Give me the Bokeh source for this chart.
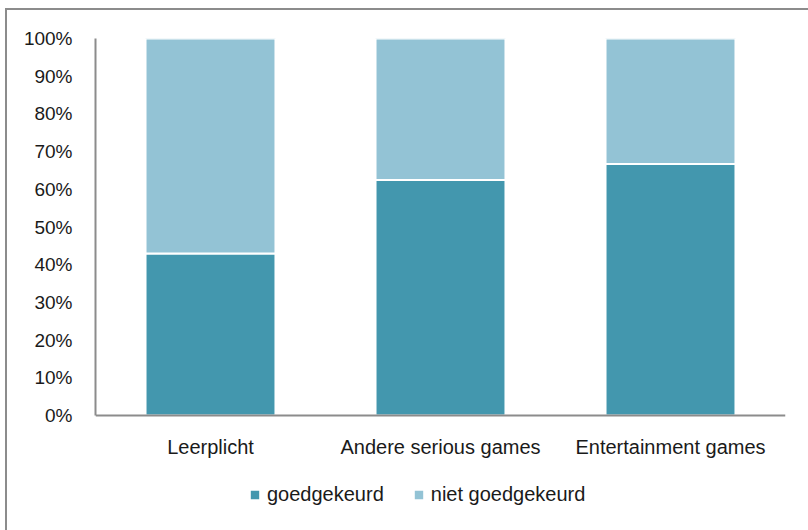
from bokeh.plotting import figure
from bokeh.models import ColumnDataSource, NumeralTickFormatter, FixedTicker, Legend, LegendItem, Range1d
from bokeh.embed import file_html
from bokeh.resources import INLINE

categories = ["Leerplicht", "Andere serious games", "Entertainment games"]
goedgekeurd = [0.43, 0.625, 0.667]
niet_goedgekeurd = [1 - v for v in goedgekeurd]
y_ticks = [0.0, 0.1, 0.2, 0.3, 0.4, 0.5, 0.6, 0.7, 0.8, 0.9, 1.0]

series = ["goedgekeurd", "niet goedgekeurd"]
colors = ["#4397ae", "#93c3d5"]

source = ColumnDataSource(dict(cat=categories, goedgekeurd=goedgekeurd,
                               **{"niet goedgekeurd": niet_goedgekeurd}))

p = figure(x_range=categories, y_range=Range1d(-0.2785, 1), width=808, height=530,
           output_backend="svg", toolbar_location=None,
           min_border_left=95, min_border_right=23, min_border_top=38, min_border_bottom=10)
p.border_fill_alpha = 0
p.styles = {"background": "linear-gradient(#8c8c8c,#8c8c8c) 5px 8px / 2px 100% no-repeat, "
                          "linear-gradient(#8c8c8c,#8c8c8c) 5px 8px / 100% 2px no-repeat, #ffffff"}

renderers = p.vbar_stack(series, x="cat", width=0.565, source=source, color=colors,
                         line_color="white", line_width=2)

p.outline_line_color = None
p.xgrid.grid_line_color = None
p.ygrid.grid_line_color = None

font = "Liberation Sans"
p.yaxis.ticker = FixedTicker(ticks=y_ticks)
p.yaxis.formatter = NumeralTickFormatter(format="0%")
p.yaxis.bounds = (0, 1)
p.yaxis.major_label_standoff = 17
p.xaxis.fixed_location = 0
for ax in (p.xaxis, p.yaxis):
    ax.axis_line_color = "#8c8c8c"
    ax.axis_line_width = 2
    ax.major_tick_line_color = None
    ax.minor_tick_line_color = None
    ax.major_label_text_font = font
    ax.major_label_text_font_size = "19px"
    ax.major_label_text_color = "#1a1a1a"
p.xaxis.major_label_text_font_size = "20px"
p.xaxis.major_label_standoff = 14

legend = Legend(items=[LegendItem(label=s, renderers=[r]) for s, r in zip(series, renderers)],
                orientation="horizontal", location=(153, 14),
                label_text_font=font, label_text_font_size="20px", label_text_color="#1a1a1a",
                glyph_width=13, glyph_height=13, spacing=28, border_line_color=None,
                background_fill_alpha=0, margin=0, padding=0, label_standoff=6)
p.add_layout(legend)

open("out.html", "w").write(file_html(p, INLINE))
